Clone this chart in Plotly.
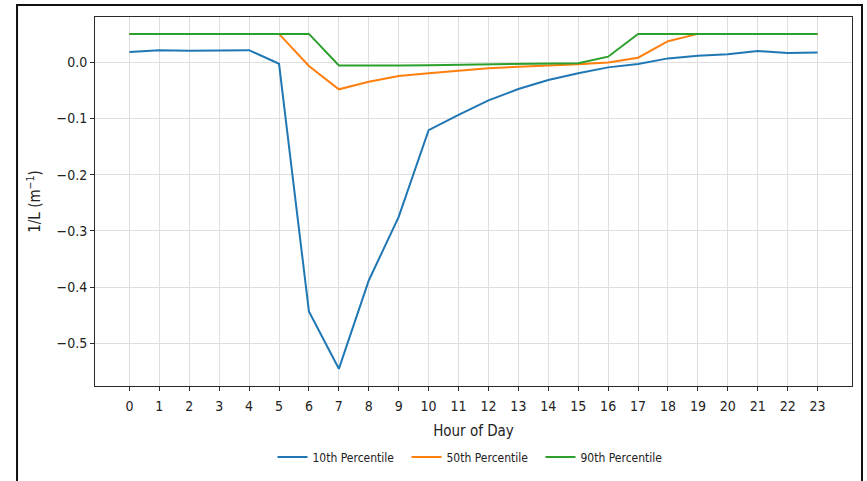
import plotly.graph_objects as go

hours = list(range(24))

p10 = [0.018, 0.021, 0.020, 0.021, 0.021, -0.003, -0.443, -0.545, -0.388, -0.275,
       -0.121, -0.094, -0.068, -0.048, -0.032, -0.020, -0.0095, -0.0036, 0.0065, 0.011,
       0.014, 0.0195, 0.016, 0.017]
p50 = [0.05, 0.05, 0.05, 0.05, 0.05, 0.05, -0.007, -0.0485, -0.035, -0.025,
       -0.020, -0.0155, -0.011, -0.0083, -0.0065, -0.004, -0.001, 0.0077, 0.037, 0.05,
       0.05, 0.05, 0.05, 0.05]
p90 = [0.05, 0.05, 0.05, 0.05, 0.05, 0.05, 0.05, -0.006, -0.0065, -0.006,
       -0.0055, -0.005, -0.0045, -0.004, -0.0035, -0.002, 0.0095, 0.05, 0.05, 0.05,
       0.05, 0.05, 0.05, 0.05]

series = [("10th Percentile", p10, "#1f77b4"),
          ("50th Percentile", p50, "#ff7f0e"),
          ("90th Percentile", p90, "#2ca02c")]

y_ticks = [0.0, -0.1, -0.2, -0.3, -0.4, -0.5]
y_labels = ["0.0", "\u22120.1", "\u22120.2", "\u22120.3", "\u22120.4", "\u22120.5"]

FONT = "DejaVu Sans Condensed, Liberation Sans Narrow, DejaVu Sans, sans-serif"

fig = go.Figure()
for name, vals, color in series:
    fig.add_trace(go.Scatter(x=hours, y=vals, mode="lines", name=name,
                             line=dict(color=color, width=2)))

axis_common = dict(showgrid=True, gridcolor="#dedede", gridwidth=1,
                   showline=True, linecolor="#2a2a2a", linewidth=1, mirror=True,
                   ticks="outside", ticklen=4, tickcolor="#2a2a2a",
                   zeroline=False, tickfont=dict(family=FONT, size=14, color="#222"))

fig.update_xaxes(range=[-1.15, 24.15], tickmode="array", tickvals=hours,
                 ticktext=[str(h) for h in hours], ticklabelstandoff=3,
                 title=dict(text="Hour of Day", font=dict(family=FONT, size=15, color="#222"),
                            standoff=12),
                 **axis_common)
fig.update_yaxes(range=[-0.5755, 0.080], tickmode="array", tickvals=y_ticks,
                 ticktext=y_labels,
                 title=dict(text="1/L (m<sup>\u22121</sup>)",
                            font=dict(family=FONT, size=15, color="#222"), standoff=12),
                 **axis_common)

# outer figure frame
fig.add_shape(type="rect", xref="paper", yref="paper",
              x0=-0.103, x1=1.0132, y0=-0.30, y1=1.0325,
              line=dict(color="#111", width=2), fillcolor="rgba(0,0,0,0)", layer="below")

fig.update_layout(
    width=867, height=481,
    margin=dict(l=95, r=15, t=17, b=95, autoexpand=False),
    paper_bgcolor="white", plot_bgcolor="white",
    font=dict(family=FONT, color="#222"),
    showlegend=True,
    legend=dict(orientation="h", x=0.5, xanchor="center", y=-0.153, yanchor="top",
                font=dict(family=FONT, size=12, color="#222"),
                entrywidth=89, itemwidth=30),
)

fig.write_html("out.html")
